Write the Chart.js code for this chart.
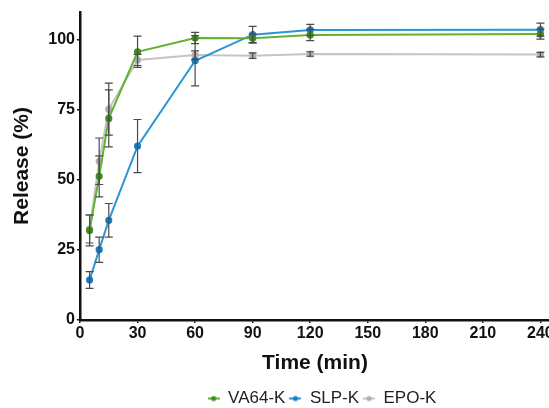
<!DOCTYPE html>
<html lang="en">
<head>
  <meta charset="UTF-8" />
  <title>Release profiles</title>
  <script src="https://cdn.jsdelivr.net/npm/chart.js"></script>
  <style>
    html, body {
      margin: 0;
      padding: 0;
      background: #fff;
      overflow: hidden;
    }
    .wrap {
      width: 640px;
      height: 408px;
    }
  </style>
</head>
<body>
  <div class="wrap"><canvas id="grafico"></canvas></div>

  <script>
    // sampling times (min)
    const tiempos = [5, 10, 15, 30, 60, 90, 120, 240];

    // mean release (%) and standard deviation for each formulation
    const va64 = [32, 51.3, 72, 95.8, 100.7, 100.6, 101.8, 102.1];
    const va64Err = [5.5, 7.3, 10.2, 5.6, 2, 1.5, 2, 1.8];

    const slp = [14.3, 25.1, 35.6, 62.1, 92.6, 101.9, 103.6, 103.7];
    const slpErr = [3, 4.5, 6, 9.5, 9, 3, 2, 2.3];

    const epo = [32.5, 56.7, 75.3, 92.9, 94.6, 94.4, 95, 94.8];
    const epoErr = [5, 8.3, 9.3, 2, 1.5, 1, 0.8, 0.8];

    const xTicks = [0, 30, 60, 90, 120, 150, 180, 210, 240];
    const yTicks = [0, 25, 50, 75, 100];

    const series = [
      { label: "VA64-K", data: va64, err: va64Err, color: "#62b22f", punto: "#3f8f1c" },
      { label: "SLP-K", data: slp, err: slpErr, color: "#2b94d6", punto: "#1d7cc0" },
      { label: "EPO-K", data: epo, err: epoErr, color: "#c4c4c4", punto: "#b0b0b0" }
    ];

    // little line-with-dot symbol for the legend
    function iconoLeyenda(linea, punto) {
      const c = document.createElement("canvas");
      c.width = 12;
      c.height = 8;
      const ctx = c.getContext("2d");
      ctx.strokeStyle = linea;
      ctx.lineWidth = 2;
      ctx.beginPath();
      ctx.moveTo(0, 4);
      ctx.lineTo(12, 4);
      ctx.stroke();
      ctx.fillStyle = punto;
      ctx.beginPath();
      ctx.arc(6, 4, 2.6, 0, Math.PI * 2);
      ctx.fill();
      return c;
    }

    // vertical error bars with caps, drawn from the scales
    const barrasError = {
      id: "barrasError",
      afterDatasetsDraw(chart) {
        const ctx = chart.ctx;
        const xs = chart.scales.x;
        const ys = chart.scales.y;
        ctx.save();
        ctx.strokeStyle = "#4a4a4a";
        ctx.lineWidth = 1.2;
        for (let d = chart.data.datasets.length - 1; d >= 0; d--) {
          const ds = chart.data.datasets[d];
          ds.data.forEach((p, i) => {
            const e = ds.errores[i];
            const x = xs.getPixelForValue(p.x);
            const yTop = ys.getPixelForValue(p.y + e);
            const yBot = ys.getPixelForValue(p.y - e);
            ctx.beginPath();
            ctx.moveTo(x, yTop);
            ctx.lineTo(x, yBot);
            ctx.moveTo(x - 4, yTop);
            ctx.lineTo(x + 4, yTop);
            ctx.moveTo(x - 4, yBot);
            ctx.lineTo(x + 4, yBot);
            ctx.stroke();
          });
        }
        ctx.restore();
      }
    };

    // nudge the legend a bit to the right and down
    const moverLeyenda = {
      id: "moverLeyenda",
      afterLayout(chart) {
        const l = chart.legend;
        l.left += 47;
        l.right += 47;
        l.top += 9;
        l.bottom += 9;
      }
    };

    const fuente = "'Liberation Sans', Arial, sans-serif";

    new Chart(document.getElementById("grafico"), {
      type: "line",
      data: {
        datasets: series.map(s => ({
          label: s.label,
          data: s.data.map((v, i) => ({ x: tiempos[i], y: v })),
          errores: s.err,
          borderColor: s.color,
          backgroundColor: s.punto,
          pointBackgroundColor: s.punto,
          pointBorderColor: s.punto,
          pointRadius: 2.6,
          borderWidth: 2,
          tension: 0,
          fill: false
        }))
      },
      options: {
        responsive: true,
        maintainAspectRatio: false,
        animation: false,
        layout: { padding: { top: 12, right: 90, left: 0, bottom: 0 } },
        plugins: {
          tooltip: { enabled: false },
          legend: {
            position: "bottom",
            labels: {
              usePointStyle: true,
              boxWidth: 12,
              color: "#222",
              padding: 4,
              font: { family: fuente, size: 17 },
              generateLabels(chart) {
                return series.map((s, i) => ({
                  text: s.label,
                  datasetIndex: i,
                  fontColor: "#222",
                  pointStyle: iconoLeyenda(s.color, s.punto),
                  lineWidth: 0,
                  strokeStyle: "transparent",
                  fillStyle: s.punto
                }));
              }
            }
          }
        },
        scales: {
          x: {
            type: "linear",
            min: 0,
            max: 245,
            afterBuildTicks(axis) {
              axis.ticks = xTicks.map(v => ({ value: v }));
            },
            afterFit(axis) {
              axis.height = 57;
            },
            grid: { drawOnChartArea: false, color: "#111", tickLength: 3, lineWidth: 1.5 },
            border: { color: "#111", width: 2.5 },
            ticks: {
              color: "#111",
              padding: 1,
              maxRotation: 0,
              font: { family: fuente, size: 16, weight: "bold" }
            },
            title: {
              display: true,
              text: "Time (min)",
              color: "#111",
              padding: { top: 4, bottom: 1 },
              font: { family: fuente, size: 21, weight: "bold" }
            }
          },
          y: {
            min: 0,
            max: 110,
            afterBuildTicks(axis) {
              axis.ticks = yTicks.map(v => ({ value: v }));
            },
            afterFit(axis) {
              axis.width = 80;
            },
            grid: { drawOnChartArea: false, color: "#111", tickLength: 3, lineWidth: 1.5 },
            border: { color: "#111", width: 2.5 },
            ticks: {
              color: "#111",
              padding: 2,
              font: { family: fuente, size: 16, weight: "bold" }
            },
            title: {
              display: true,
              text: "Release (%)",
              color: "#111",
              padding: { top: 10, bottom: 4 },
              font: { family: fuente, size: 21, weight: "bold" }
            }
          }
        }
      },
      plugins: [barrasError, moverLeyenda]
    });
  </script>
</body>
</html>
